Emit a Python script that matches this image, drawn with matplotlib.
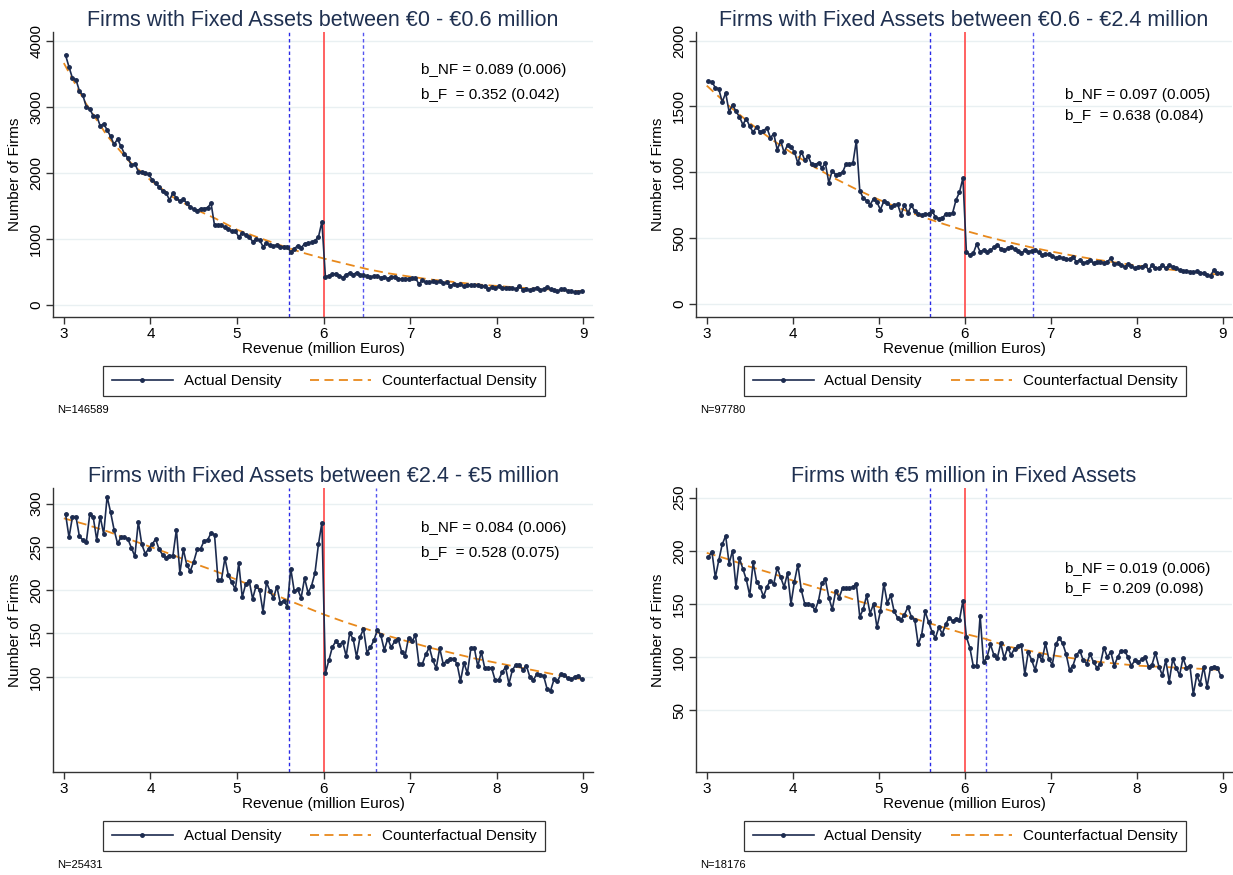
import matplotlib
matplotlib.use("Agg")
import matplotlib.pyplot as plt
from matplotlib.lines import Line2D
import numpy as np

plt.rcParams['font.family'] = ['Liberation Sans', 'DejaVu Sans']

# revenue bins (million euros), bin width 0.04
bins = np.round(np.arange(3.02, 9.0, 0.04), 2)
cf_grid = np.round(np.arange(3.0, 9.01, 0.25), 2)

titles = ["Firms with Fixed Assets between \u20ac0 - \u20ac0.6 million",
          "Firms with Fixed Assets between \u20ac0.6 - \u20ac2.4 million",
          "Firms with Fixed Assets between \u20ac2.4 - \u20ac5 million",
          "Firms with \u20ac5 million in Fixed Assets"]
n_obs = ["N=146589", "N=97780", "N=25431", "N=18176"]
b_nf = ["b_NF = 0.089 (0.006)", "b_NF = 0.097 (0.005)", "b_NF = 0.084 (0.006)", "b_NF = 0.019 (0.006)"]
b_f = ["b_F  = 0.352 (0.042)", "b_F  = 0.638 (0.084)", "b_F  = 0.528 (0.075)", "b_F  = 0.209 (0.098)"]
cutoff = 6.0
lower_bound = [5.6, 5.6, 5.6, 5.6]
upper_bound = [6.45, 6.8, 6.6, 6.25]

actual_1 = [3780, 3600, 3430, 3410, 3240, 3170, 3000, 2965, 2860, 2860,
            2710, 2740, 2650, 2550, 2430, 2510, 2400, 2290, 2225, 2115,
            2140, 2020, 2015, 2000, 1975, 1895, 1850, 1785, 1725, 1700,
            1590, 1695, 1615, 1575, 1600, 1540, 1490, 1450, 1430, 1460,
            1460, 1475, 1540, 1205, 1205, 1205, 1175, 1145, 1120, 1120,
            1030, 1095, 1065, 1035, 960, 995, 985, 885, 935, 905,
            895, 910, 880, 885, 885, 800, 850, 900, 865, 930,
            935, 950, 975, 1030, 1260,
            432, 442, 467, 477, 442, 417, 462, 487, 462, 492,
            462, 452, 442, 422, 442, 442, 417, 427, 402, 427,
            432, 402, 392, 402, 402, 412, 412, 317, 377, 342,
            342, 357, 342, 362, 332, 342, 292, 317, 302, 317,
            282, 302, 307, 302, 302, 292, 292, 241, 271, 261,
            282, 256, 266, 261, 261, 241, 292, 231, 241, 231,
            241, 266, 231, 241, 271, 241, 221, 211, 236, 236,
            216, 216, 191, 201, 211]
actual_2 = [1691, 1686, 1643, 1633, 1533, 1603, 1460, 1513, 1462, 1422,
            1362, 1407, 1349, 1304, 1347, 1304, 1317, 1337, 1264, 1291,
            1171, 1239, 1151, 1209, 1191, 1156, 1068, 1158, 1093, 1121,
            1060, 1058, 1073, 1035, 1068, 922, 1013, 982, 990, 1000,
            1063, 1065, 1068, 1239, 862, 804, 786, 754, 799, 774,
            716, 781, 769, 736, 749, 759, 678, 754, 691, 749,
            706, 686, 678, 681, 686, 709, 661, 648, 650, 686,
            686, 691, 791, 849, 957,
            397, 372, 385, 455, 397, 410, 397, 410, 430, 452,
            420, 410, 422, 435, 417, 400, 384, 410, 397, 405,
            410, 392, 372, 377, 377, 367, 347, 359, 347, 342,
            339, 359, 322, 334, 309, 322, 334, 309, 322, 322,
            309, 322, 347, 302, 309, 296, 284, 302, 289, 271,
            284, 284, 296, 259, 296, 271, 276, 296, 271, 296,
            284, 271, 259, 251, 251, 246, 241, 251, 234, 234,
            221, 216, 259, 234, 239]
actual_3 = [288, 261, 285, 285, 262, 258, 256, 288, 284, 258,
            285, 265, 308, 290, 270, 254, 261, 261, 259, 249,
            239, 279, 253, 242, 248, 253, 259, 247, 241, 237,
            240, 240, 270, 220, 247, 229, 222, 233, 247, 248,
            257, 258, 266, 264, 212, 212, 237, 217, 209, 201,
            231, 192, 207, 211, 190, 205, 200, 175, 209, 199,
            191, 204, 185, 188, 181, 225, 199, 201, 191, 214,
            197, 205, 220, 253, 278,
            104, 119, 134, 141, 137, 140, 124, 150, 144, 123,
            146, 155, 128, 134, 142, 154, 148, 131, 144, 134,
            141, 144, 129, 124, 145, 141, 148, 115, 115, 126,
            134, 119, 110, 133, 115, 118, 121, 121, 115, 95,
            116, 104, 133, 133, 112, 129, 110, 110, 110, 96,
            96, 105, 111, 92, 108, 114, 114, 108, 113, 100,
            96, 103, 102, 101, 86, 84, 97, 95, 103, 102,
            98, 97, 100, 101, 97]
actual_4 = [194, 199, 175, 191, 206, 214, 188, 200, 166, 193,
            183, 173, 158, 189, 171, 166, 157, 166, 172, 169,
            184, 175, 166, 179, 150, 171, 187, 163, 150, 150,
            149, 144, 153, 170, 173, 156, 145, 162, 156, 165,
            165, 165, 166, 169, 138, 145, 158, 141, 150, 128,
            143, 169, 151, 158, 143, 137, 135, 140, 147, 138,
            135, 112, 121, 143, 133, 124, 118, 128, 122, 131,
            137, 134, 136, 135, 153,
            119, 109, 92, 92, 139, 95, 100, 112, 102, 99,
            113, 99, 109, 102, 108, 110, 111, 84, 105, 97,
            88, 102, 97, 113, 98, 93, 112, 118, 113, 103,
            88, 92, 102, 106, 97, 94, 103, 95, 90, 94,
            109, 100, 105, 92, 100, 106, 106, 100, 92, 97,
            95, 98, 100, 91, 93, 104, 91, 83, 97, 77,
            98, 90, 83, 99, 90, 92, 65, 83, 75, 91,
            72, 90, 91, 90, 82]

counterfactual_1 = [3660, 3060, 2560, 2180, 1890, 1640, 1460, 1310, 1140, 1020, 905, 795, 705,
                    625, 545, 480, 430, 385, 350, 315, 290, 265, 245, 225, 210]
counterfactual_2 = [1658, 1509, 1374, 1252, 1142, 1041, 950, 868, 793, 726, 664, 609, 558,
                    513, 472, 434, 400, 369, 341, 316, 293, 272, 254, 237, 221]
counterfactual_3 = [283, 276, 268, 259, 250, 241, 231, 222, 212, 202, 192, 182, 172,
                    163, 155, 147, 140, 133, 127, 121, 116, 111, 106, 101, 97]
counterfactual_4 = [198, 192, 185, 179, 172, 166, 160, 153, 147, 141, 134, 128, 122,
                    117, 110, 106, 102, 99, 96, 94, 92, 91, 90, 89, 88]

actuals = [actual_1, actual_2, actual_3, actual_4]
counterfactuals = [counterfactual_1, counterfactual_2, counterfactual_3, counterfactual_4]
y_limits = [(-180, 4130), (-98, 2065), (-10, 318), (-8, 259)]
y_ticks = [np.arange(0, 4001, 1000), np.arange(0, 2001, 500),
           np.arange(100, 301, 50), np.arange(50, 251, 50)]

W, H = 1233, 875
fig = plt.figure(figsize=(W / 100, H / 100), dpi=100)

# axes boxes in pixels: left, bottom, right, top
boxes = [(53, 317, 593, 32), (696, 317, 1232, 32),
         (53, 772, 593, 488), (696, 772, 1232, 488)]
text_y = [(0.868, 0.780), (0.780, 0.704), (0.860, 0.772), (0.714, 0.643)]
text_x = [0.681, 0.689, 0.681, 0.689]

navy = "#1c2b4f"
orange = "#e8891c"
fs = 11

for k in range(4):
	l, b, r, t = boxes[k]
	ax = fig.add_axes([l / W, 1 - b / H, (r - l) / W, (b - t) / H])

	ax.set_axisbelow(True)
	ax.yaxis.grid(True, color="#e9f0f2", linewidth=1.0)

	ax.axvline(lower_bound[k], color="#2a2ae6", linestyle=(0, (2.5, 2)), linewidth=1.0)
	ax.axvline(upper_bound[k], color="#5555f0", linestyle=(0, (2.5, 2)), linewidth=1.0)
	ax.axvline(cutoff, color="#ff5555", linewidth=1.3)

	ax.plot(cf_grid, counterfactuals[k], color=orange, linestyle=(0, (5, 3)), linewidth=1.3)
	ax.plot(bins, actuals[k], color=navy, linewidth=1.2, marker="o", markersize=2.5)

	ax.set_xlim(2.875, 9.11)
	ax.set_ylim(*y_limits[k])
	ax.set_xticks(range(3, 10))
	ax.set_yticks(y_ticks[k])
	for s in ["top", "right"]:
		ax.spines[s].set_visible(False)
	for s in ["left", "bottom"]:
		ax.spines[s].set_color("#333333")
		ax.spines[s].set_linewidth(1.0)
	ax.tick_params(axis="both", labelsize=fs, length=5, width=1.0, color="#333333", pad=2)
	for lab in ax.get_yticklabels():
		lab.set_rotation(90)
		lab.set_va("center")

	ax.set_title(titles[k], fontsize=15.5, color="#1f3050", pad=4)
	ax.set_xlabel("Revenue (million Euros)", fontsize=fs, labelpad=1)
	ax.set_ylabel("Number of Firms", fontsize=fs, labelpad=5)

	ax.text(text_x[k], text_y[k][0], b_nf[k], transform=ax.transAxes, fontsize=fs, va="center")
	ax.text(text_x[k], text_y[k][1], b_f[k], transform=ax.transAxes, fontsize=fs, va="center")

	handles = [Line2D([], [], color=navy, linewidth=1.2, marker="o", markersize=2.5),
	           Line2D([], [], color=orange, linestyle=(0, (5, 3)), linewidth=1.3)]
	leg_y = -64 / (b - t)
	leg = ax.legend(handles, ["Actual Density", "Counterfactual Density"], loc="center",
	                bbox_to_anchor=(0.502, leg_y), ncol=2, fontsize=fs, frameon=True,
	                fancybox=False, edgecolor="black", handlelength=4.0, columnspacing=1.9,
	                handletextpad=0.7, borderpad=0.55, numpoints=1)
	leg.get_frame().set_linewidth(0.9)

	fig.text((l + 4) / W, 1 - (b + 93) / H, n_obs[k], fontsize=8, va="center")

fig.savefig("out.png", dpi=100)
